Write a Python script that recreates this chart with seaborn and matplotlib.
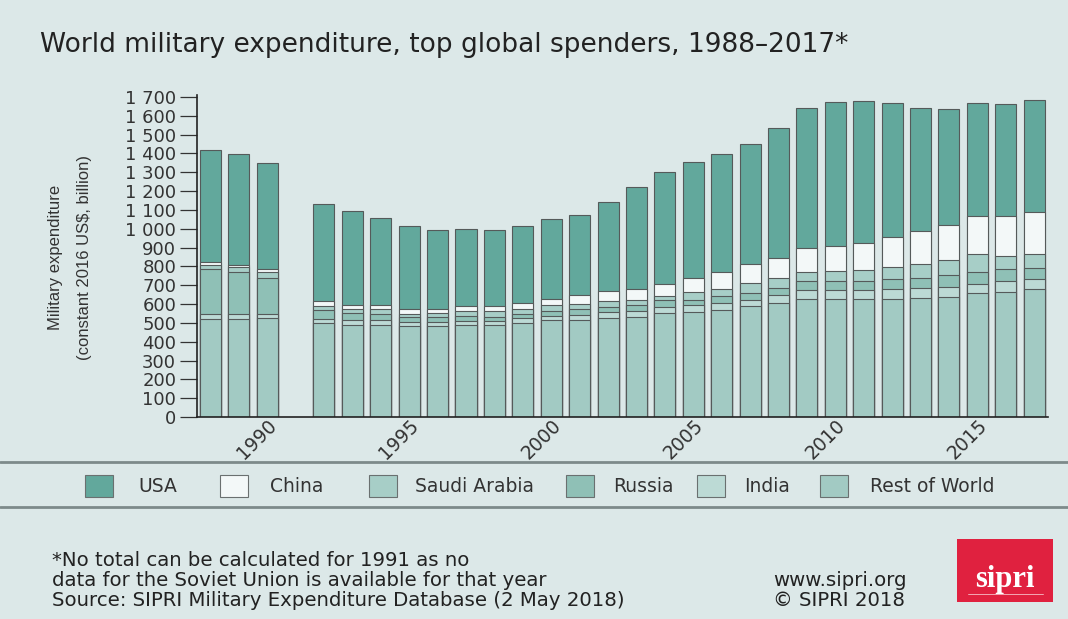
import numpy as np
import pandas as pd
import matplotlib.pyplot as plt
import matplotlib.patches as mpatches
import matplotlib.transforms as mtransforms
from matplotlib.ticker import FuncFormatter
import seaborn as sns

# Datos (miles de millones US$ constantes 2016), 1991 sin dato
years = list(range(1988, 2018))
rest_of_world = [522, 522, 526, np.nan, 501, 490, 490, 483, 483, 488, 488, 501, 513, 517, 528,
                 531, 552, 558, 570, 588, 605, 625, 629, 629, 629, 634, 637, 659, 664, 678]
india = [23, 23, 23, np.nan, 21, 23, 23, 21, 21, 21, 21, 25, 24, 26, 30,
         30, 32, 35, 35, 35, 41, 48, 48, 47, 49, 53, 53, 49, 57, 57]
russia = [239, 225, 191, np.nan, 45, 39, 36, 27, 27, 26, 22, 23, 26, 29, 26,
          36, 36, 30, 36, 38, 41, 48, 44, 46, 53, 53, 62, 62, 67, 58]
saudi_arabia = [25, 27, 30, np.nan, 22, 23, 23, 18, 21, 28, 30, 26, 30, 30, 30,
                23, 23, 41, 41, 53, 53, 49, 53, 57, 66, 75, 84, 94, 69, 71]
china = [14, 12, 18, np.nan, 25, 22, 21, 23, 23, 25, 27, 32, 36, 48, 54,
         58, 65, 74, 88, 97, 105, 128, 134, 145, 159, 173, 186, 202, 209, 225]
usa = [593, 589, 561, np.nan, 519, 495, 464, 441, 416, 412, 403, 407, 421, 425, 474,
       543, 593, 616, 629, 641, 690, 745, 765, 754, 711, 655, 616, 601, 598, 596]

series_names = ['USA', 'China', 'Saudi Arabia', 'Russia', 'India', 'Rest of World']
series_values = [usa, china, saudi_arabia, russia, india, rest_of_world]
colors = ['#62a89c', '#f3f8f8', '#a7cec7', '#8fc0b6', '#bcdad5', '#a2cac3']

bg = '#dce8e8'
edge = '#555a5a'

# Tabla con sumas acumuladas (de abajo hacia arriba)
df = pd.DataFrame({'year': [str(y) for y in years]})
for name, vals in zip(series_names, series_values):
    df[name] = vals
cum = df[series_names[::-1]].cumsum(axis=1)

sns.set_style('white')
plt.rcParams['font.family'] = ['DejaVu Sans']

fig = plt.figure(figsize=(10.68, 6.19), dpi=100, facecolor=bg)
ax = fig.add_axes([197 / 1068, 1 - 417 / 619, 851 / 1068, 322 / 619])
ax.set_facecolor(bg)

order = [str(y) for y in years]
# Dibujar desde la barra total (USA arriba) hasta la base (Rest of World)
for name, color in zip(series_names, colors):
    plot_df = pd.DataFrame({'year': df['year'], 'value': cum[name]}).dropna()
    sns.barplot(data=plot_df, x='year', y='value', order=order, color=color,
                edgecolor=edge, linewidth=0.8, width=0.74, saturation=1,
                errorbar=None, ax=ax)

ax.set_xlim(-0.47, 29.49)
ax.set_ylim(0, 1710)
ax.set_yticks(range(0, 1701, 100))
ax.yaxis.set_major_formatter(FuncFormatter(lambda v, p: f"{int(v):,}".replace(',', ' ')))
ax.tick_params(axis='y', length=12, width=0.9, color='#333333', labelsize=13,
               labelcolor='#333333', pad=3, left=True)
tick_years = [1990, 1995, 2000, 2005, 2010, 2015]
ax.set_xticks([years.index(y) for y in tick_years])
ax.set_xticklabels([str(y) for y in tick_years], rotation=45, ha='right',
                   rotation_mode='anchor', fontsize=13.5, color='#333333')
ax.tick_params(axis='x', length=0, pad=4)
shift = mtransforms.ScaledTranslation(0.0, 0.07, fig.dpi_scale_trans)
for lab in ax.get_xticklabels():
    lab.set_transform(lab.get_transform() + shift)
ax.set_xlabel('')
ax.set_ylabel('')
for s in ['top', 'right']:
    ax.spines[s].set_visible(False)
for s in ['left', 'bottom']:
    ax.spines[s].set_color('#222222')
    ax.spines[s].set_linewidth(1.2)

narrow = ['Liberation Sans', 'DejaVu Sans']

# Etiqueta eje y
fig.text(56 / 1068, 1 - 257 / 619, 'Military expenditure', rotation=90, ha='center', va='center',
         fontsize=12, color='#333333', family=narrow)
fig.text(84 / 1068, 1 - 257 / 619, '(constant 2016 US$, billion)', rotation=90, ha='center',
         va='center', fontsize=12, color='#333333', family=narrow)

# Titulo
fig.text(40 / 1068, 1 - 45 / 619, 'World military expenditure, top global spenders, 1988\u20132017*',
         ha='left', va='center', fontsize=19, color='#222222')

# Lineas separadoras
for yy in [462, 507]:
    fig.add_artist(plt.Line2D([0, 1], [1 - yy / 619] * 2, color='#7d8a8a', linewidth=2))

# Leyenda (colocada a mano)
patch_x = [85, 220, 369, 566, 697, 820]
text_x = [138, 270, 415, 613, 744, 870]
for px, tx, name, c in zip(patch_x, text_x, series_names, colors):
    fig.add_artist(mpatches.Rectangle((px / 1068, 1 - 497 / 619), 28 / 1068, 22 / 619,
                                      facecolor=c, edgecolor='#6a7070', linewidth=0.8,
                                      transform=fig.transFigure))
    fig.text(tx / 1068, 1 - 486 / 619, name, ha='left', va='center', fontsize=13.5,
             color='#333333')

# Pie de pagina
foot = ['*No total can be calculated for 1991 as no',
        'data for the Soviet Union is available for that year',
        'Source: SIPRI Military Expenditure Database (2 May 2018)']
for i, line in enumerate(foot):
    fig.text(52 / 1068, 1 - (561 + 20 * i) / 619, line, ha='left', va='center',
             fontsize=14.2, color='#222222')
fig.text(773 / 1068, 1 - 580 / 619, 'www.sipri.org', ha='left', va='center',
         fontsize=14.2, color='#222222')
fig.text(773 / 1068, 1 - 600 / 619, '\u00a9 SIPRI 2018', ha='left', va='center',
         fontsize=14.2, color='#222222')

# Logo
fig.add_artist(mpatches.Rectangle((957 / 1068, 1 - 602 / 619), 96 / 1068, 63 / 619,
                                  facecolor='#e0213f', edgecolor='none', transform=fig.transFigure))
fig.text(1005 / 1068, 1 - 587 / 619, 'sipri', ha='center', va='baseline', fontsize=22,
         fontweight='bold', color='white', family=['Liberation Serif', 'DejaVu Serif'])
fig.add_artist(plt.Line2D([968 / 1068, 1043 / 1068], [1 - 594 / 619] * 2, color='white',
                          linewidth=0.6, alpha=0.7))

fig.savefig('out.png', dpi=100, facecolor=bg)
